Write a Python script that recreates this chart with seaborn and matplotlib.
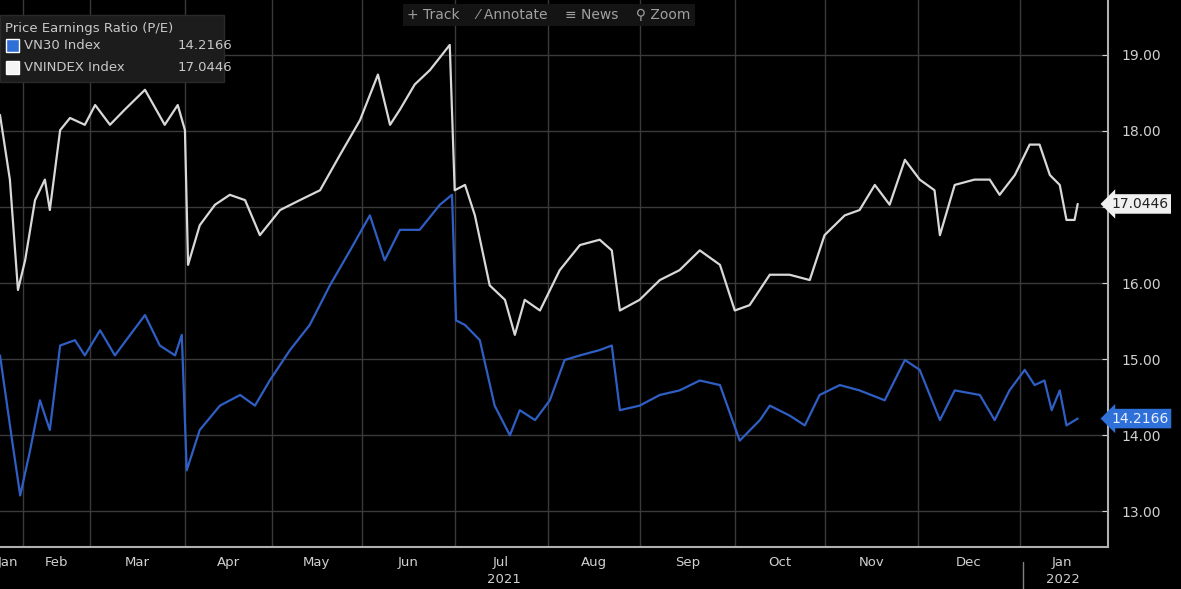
import numpy as np
import pandas as pd
import seaborn as sns
import matplotlib
matplotlib.use("Agg")
import matplotlib.pyplot as plt

# x is the trading-session index (the chart skips non-trading days, e.g. Tet in Feb)
vnindex_session = [0, 2.2, 4.0, 5.6, 7.8, 10.0, 11.1, 13.4, 15.6, 18.9, 21.2, 24.5, 27.8, 32.3, 36.7, 39.6,
                   41.2, 41.9, 44.5, 47.9, 51.2, 54.6, 57.9, 62.4, 66.8, 71.3, 75.7, 80.2, 84.2, 86.9, 89.1,
                   92.4, 95.8, 100.2, 101.3, 103.6, 105.8, 109.1, 112.5, 114.7, 116.9, 120.3, 124.7, 129.2,
                   133.6, 136.3, 138.1, 142.5, 147.0, 151.4, 155.9, 160.4, 163.7, 167.0, 171.5, 175.9, 180.4,
                   183.7, 188.2, 191.5, 194.9, 198.2, 201.6, 204.9, 208.2, 209.4, 212.7, 217.1, 220.5, 222.7,
                   226.1, 229.4, 231.6, 233.9, 236.1, 237.6, 239.4, 240.1]
vnindex_pe = [18.21, 17.36, 15.91, 16.30, 17.09, 17.36, 16.96, 18.01, 18.17, 18.08,
              18.34, 18.08, 18.28, 18.54, 18.08, 18.34, 18.01, 16.24, 16.76, 17.03,
              17.16, 17.09, 16.63, 16.96, 17.09, 17.22, 17.68, 18.14, 18.74, 18.08,
              18.28, 18.61, 18.80, 19.13, 17.22, 17.29, 16.89, 15.97, 15.78, 15.32,
              15.78, 15.64, 16.17, 16.50, 16.57, 16.43, 15.64, 15.78, 16.04, 16.17,
              16.43, 16.24, 15.64, 15.71, 16.11, 16.11, 16.04, 16.63, 16.89, 16.96,
              17.29, 17.03, 17.62, 17.36, 17.22, 16.63, 17.29, 17.36, 17.36, 17.16,
              17.42, 17.82, 17.82, 17.42, 17.29, 16.83, 16.83, 17.04]

vn30_session = [0, 2.7, 4.5, 6.7, 8.9, 11.1, 13.4, 16.7, 18.9, 22.3, 25.6, 29.0, 32.3, 35.6, 39.0, 40.5,
                41.6, 44.5, 49.0, 53.5, 56.8, 60.1, 64.6, 69.0, 73.5, 78.0, 82.4, 85.7, 89.1, 93.5, 98.0,
                100.7, 101.6, 103.6, 106.9, 110.2, 113.6, 115.8, 119.2, 122.5, 125.8, 129.2, 133.6, 136.3,
                138.1, 142.5, 147.0, 151.4, 155.9, 160.4, 164.8, 169.3, 171.5, 175.9, 179.3, 182.6, 187.1,
                191.5, 197.1, 201.6, 204.9, 209.4, 212.7, 218.3, 221.6, 224.9, 228.3, 230.5, 232.7, 234.3,
                236.1, 237.6, 240.1]
vn30_pe = [15.05, 13.93, 13.21, 13.80, 14.46, 14.07, 15.18, 15.25, 15.05, 15.38,
           15.05, 15.32, 15.58, 15.18, 15.05, 15.32, 13.54, 14.07, 14.39, 14.53,
           14.39, 14.72, 15.12, 15.45, 15.97, 16.43, 16.89, 16.30, 16.70, 16.70,
           17.03, 17.16, 15.51, 15.45, 15.25, 14.39, 14.00, 14.33, 14.20, 14.46,
           14.99, 15.05, 15.12, 15.18, 14.33, 14.39, 14.53, 14.59, 14.72, 14.66,
           13.93, 14.20, 14.39, 14.26, 14.13, 14.53, 14.66, 14.59, 14.46, 14.99,
           14.86, 14.20, 14.59, 14.53, 14.20, 14.59, 14.86, 14.66, 14.72, 14.33,
           14.59, 14.13, 14.22]

# session index of each month start (Feb 2021 .. Jan 2022)
month_start_session = [5.1, 20.0, 41.2, 60.6, 80.6, 101.3, 122.0, 142.5, 163.7, 183.7, 204.5, 227.2]
month_labels = ["Jan", "Feb", "Mar", "Apr", "May", "Jun", "Jul", "Aug", "Sep", "Oct", "Nov", "Dec", "Jan"]
y_ticks = [13, 14, 15, 16, 17, 18, 19]
last_vn30 = "14.2166"
last_vnindex = "17.0446"
x_end = 246.8

df = pd.concat([
    pd.DataFrame({"session": vnindex_session, "pe": vnindex_pe, "series": "VNINDEX"}),
    pd.DataFrame({"session": vn30_session, "pe": vn30_pe, "series": "VN30"}),
])

sns.set_style("dark")
plt.rcParams["font.family"] = ["DejaVu Sans"]
fig = plt.figure(figsize=(11.81, 5.89), dpi=100, facecolor="black")
ax = fig.add_axes([0.0, 0.071, 0.938, 0.929])
ax.set_facecolor("black")

sns.lineplot(data=df, x="session", y="pe", hue="series",
             palette={"VNINDEX": "#d8d8d8", "VN30": "#2f5fc4"}, linewidth=1.6, ax=ax, legend=False)

ax.set_xlim(0, x_end)
ax.set_ylim(12.53, 19.72)
for m in month_start_session:
    ax.axvline(m, color="#3a3a3a", lw=1, zorder=0)
for t in y_ticks:
    ax.axhline(t, color="#3a3a3a", lw=1, zorder=0)

ax.yaxis.tick_right()
ax.set_yticks(y_ticks)
ax.set_yticklabels([f"{t:.2f}" for t in y_ticks], color="#d0d0d0", fontsize=10)
bounds = month_start_session
mids = [1.8] + [(a + b) / 2 for a, b in zip(bounds[:-1], bounds[1:])] + [236.5]
ax.set_xticks(mids)
ax.set_xticklabels(month_labels, color="#d0d0d0", fontsize=9.5)
ax.tick_params(axis="x", length=0, pad=6)
ax.tick_params(axis="y", length=4, color="#d0d0d0", direction="in", pad=10)
ax.set_xlabel("")
ax.set_ylabel("")
for s in ["top", "left"]:
    ax.spines[s].set_visible(False)
for s in ["right", "bottom"]:
    ax.spines[s].set_color("#b0b0b0")
    ax.spines[s].set_linewidth(1.5)

fig.text(0.427, 0.016, "2021", color="#d0d0d0", fontsize=9.5, ha="center", va="center")
fig.text(0.9, 0.016, "2022", color="#d0d0d0", fontsize=9.5, ha="center", va="center")
fig.add_artist(plt.Line2D([0.866, 0.866], [0.0, 0.045], color="#808080", lw=1))

# value tags on the right axis
ax.text(1.003, 17.04, last_vnindex, transform=ax.get_yaxis_transform(), va="center", ha="left",
        fontsize=10, color="#222222", bbox=dict(boxstyle="larrow,pad=0.2", fc="#f0f0f0", ec="none"))
ax.text(1.003, 14.22, last_vn30, transform=ax.get_yaxis_transform(), va="center", ha="left",
        fontsize=10, color="#e8f0ff", bbox=dict(boxstyle="larrow,pad=0.2", fc="#2f6fd8", ec="none"))

# legend box
fig.patches.append(plt.Rectangle((0.0, 0.86), 0.19, 0.115, transform=fig.transFigure,
                                 fc="#1c1c1c", ec="#2a2a2a", zorder=5))
fig.text(0.004, 0.952, "Price Earnings Ratio (P/E)", color="#c8c8c8", fontsize=9.5, va="center", zorder=6)
fig.patches.append(plt.Rectangle((0.005, 0.912), 0.011, 0.022, transform=fig.transFigure,
                                 fc="#2f6fd8", zorder=6))
fig.text(0.02, 0.922, "VN30 Index", color="#c8c8c8", fontsize=9.5, va="center", zorder=6)
fig.text(0.15, 0.922, last_vn30, color="#c8c8c8", fontsize=9.5, va="center", zorder=6)
fig.patches.append(plt.Rectangle((0.005, 0.875), 0.011, 0.022, transform=fig.transFigure,
                                 fc="#f5f5f5", zorder=6))
fig.text(0.02, 0.885, "VNINDEX Index", color="#c8c8c8", fontsize=9.5, va="center", zorder=6)
fig.text(0.15, 0.885, last_vnindex, color="#c8c8c8", fontsize=9.5, va="center", zorder=6)

# toolbar
fig.text(0.345, 0.975, "+ Track    ⁄ Annotate    ≡ News    ⚲ Zoom", color="#a0a0a0",
         fontsize=10, va="center", ha="left",
         bbox=dict(fc="#141414", ec="none", pad=3))

fig.savefig("out.png", dpi=100, facecolor="black")
